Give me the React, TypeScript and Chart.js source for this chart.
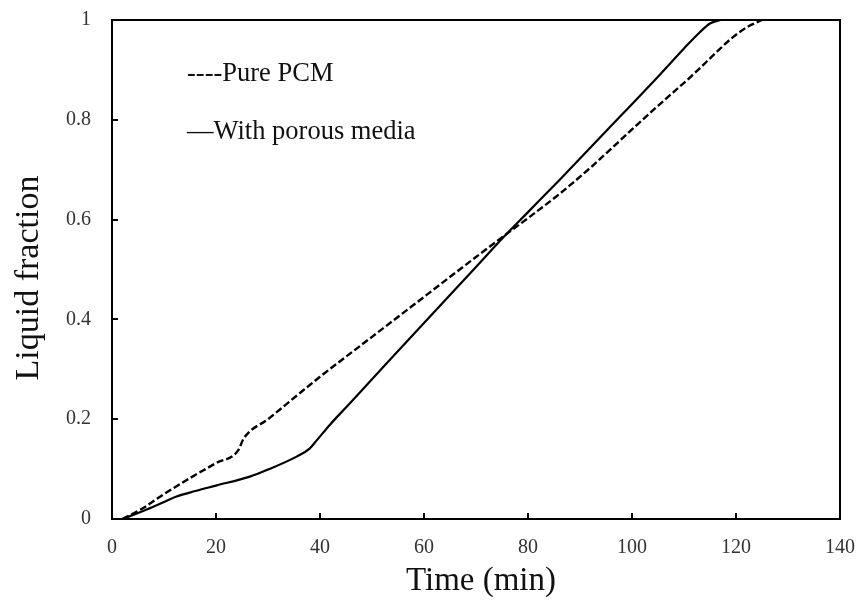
import React, { useEffect, useRef } from "react";
import { Chart, registerables } from "chart.js";

Chart.register(...registerables);

// Melting time (min) and liquid fraction for each case
const timePure = [2, 6, 10, 15, 20, 24.3, 25.3, 30, 40, 50, 60, 70, 76, 80, 86, 92, 99, 105, 112, 116, 119, 122, 125];
const fractionPure = [0, 0.022, 0.05, 0.082, 0.112, 0.138, 0.161, 0.2, 0.285, 0.365, 0.445, 0.525, 0.572, 0.603, 0.651, 0.704, 0.771, 0.828, 0.893, 0.933, 0.962, 0.985, 1.0];

const timePorous = [2, 6, 10, 12.4, 16, 20, 26.5, 30, 35.5, 38, 39.4, 42, 45.4, 50, 60, 70, 75.5, 80, 86.2, 95, 105.4, 110, 113, 115, 117];
const fractionPorous = [0, 0.016, 0.034, 0.045, 0.056, 0.067, 0.085, 0.099, 0.125, 0.141, 0.158, 0.19, 0.228, 0.28, 0.393, 0.505, 0.567, 0.615, 0.681, 0.777, 0.891, 0.943, 0.975, 0.993, 1.0];

const xTicks = [0, 20, 40, 60, 80, 100, 120, 140];
const yTicks = [0, 0.2, 0.4, 0.6, 0.8, 1];

const seriesLabels = ["Pure PCM", "With porous media"];
const xTitle = "Time (min)";
const yTitle = "Liquid fraction";

const SERIF = "'Liberation Serif', 'Times New Roman', serif";

const toPoints = (xs: number[], ys: number[]) => xs.map((x, i) => ({ x, y: ys[i] }));

// Frame, inward tick marks, axis titles and the text legend
const decorations = {
  id: "decorations",
  afterDraw(chart: any) {
    const { ctx, chartArea } = chart;
    const { left, right, top, bottom } = chartArea;
    const xs = chart.scales.x;
    const ys = chart.scales.y;
    ctx.save();
    ctx.strokeStyle = "#000";
    ctx.lineWidth = 2;
    ctx.beginPath();
    for (const v of xTicks) {
      const px = Math.round(xs.getPixelForValue(v));
      ctx.moveTo(px, bottom);
      ctx.lineTo(px, bottom - 6);
    }
    for (const v of yTicks) {
      const py = Math.round(ys.getPixelForValue(v));
      ctx.moveTo(left, py);
      ctx.lineTo(left + 6, py);
    }
    ctx.stroke();
    ctx.strokeRect(left, top, right - left, bottom - top);

    ctx.fillStyle = "#111";
    ctx.font = `33px ${SERIF}`;
    ctx.textAlign = "center";
    ctx.textBaseline = "alphabetic";
    ctx.fillText(xTitle, (left + right) / 2 + 5, 590);

    ctx.save();
    ctx.translate(38, 278);
    ctx.rotate(-Math.PI / 2);
    ctx.font = `34px ${SERIF}`;
    ctx.fillText(yTitle, 0, 0);
    ctx.restore();

    ctx.textAlign = "left";
    ctx.font = `26.5px ${SERIF}`;
    ctx.fillText("----" + seriesLabels[0], 187, 81);
    ctx.fillText("\u2014" + seriesLabels[1], 187, 139);
    ctx.restore();
  },
};

export default function App() {
  const canvasRef = useRef<HTMLCanvasElement | null>(null);

  useEffect(() => {
    if (!canvasRef.current) return;
    const chart = new Chart(canvasRef.current, {
      type: "line",
      data: {
        datasets: [
          {
            label: seriesLabels[0],
            data: toPoints(timePure, fractionPure),
            borderColor: "#000",
            borderWidth: 2.4,
            borderDash: [7, 3],
            pointRadius: 0,
            cubicInterpolationMode: "monotone",
            fill: false,
          },
          {
            label: seriesLabels[1],
            data: toPoints(timePorous, fractionPorous),
            borderColor: "#000",
            borderWidth: 2.2,
            pointRadius: 0,
            cubicInterpolationMode: "monotone",
            fill: false,
          },
        ],
      },
      options: {
        animation: false,
        responsive: true,
        maintainAspectRatio: false,
        layout: { padding: { left: 0, right: 21, top: 20, bottom: 0 } },
        plugins: {
          legend: { display: false },
          tooltip: { enabled: false },
        },
        scales: {
          x: {
            type: "linear",
            min: 0,
            max: 140,
            afterFit: (s: any) => {
              s.height = 82;
              s.paddingLeft = 0;
              s.paddingRight = 0;
            },
            afterBuildTicks: (s: any) => {
              s.ticks = xTicks.map((v) => ({ value: v }));
            },
            grid: { display: false, drawTicks: false },
            border: { display: false },
            ticks: {
              padding: 17,
              color: "#333",
              font: { family: SERIF, size: 20 },
              callback: (v: any) => String(v),
            },
          },
          y: {
            type: "linear",
            min: 0,
            max: 1,
            afterFit: (s: any) => {
              s.width = 112;
              s.paddingTop = 0;
              s.paddingBottom = 0;
            },
            afterBuildTicks: (s: any) => {
              s.ticks = yTicks.map((v) => ({ value: v }));
            },
            grid: { display: false, drawTicks: false },
            border: { display: false },
            ticks: {
              padding: 21,
              color: "#333",
              font: { family: SERIF, size: 20 },
              callback: (v: any) => String(v),
            },
          },
        },
      },
      plugins: [decorations],
    });
    return () => chart.destroy();
  }, []);

  return (
    <div style={{ position: "absolute", left: 0, top: 0, width: 861, height: 601, background: "#fff" }}>
      <canvas ref={canvasRef} />
    </div>
  );
}
